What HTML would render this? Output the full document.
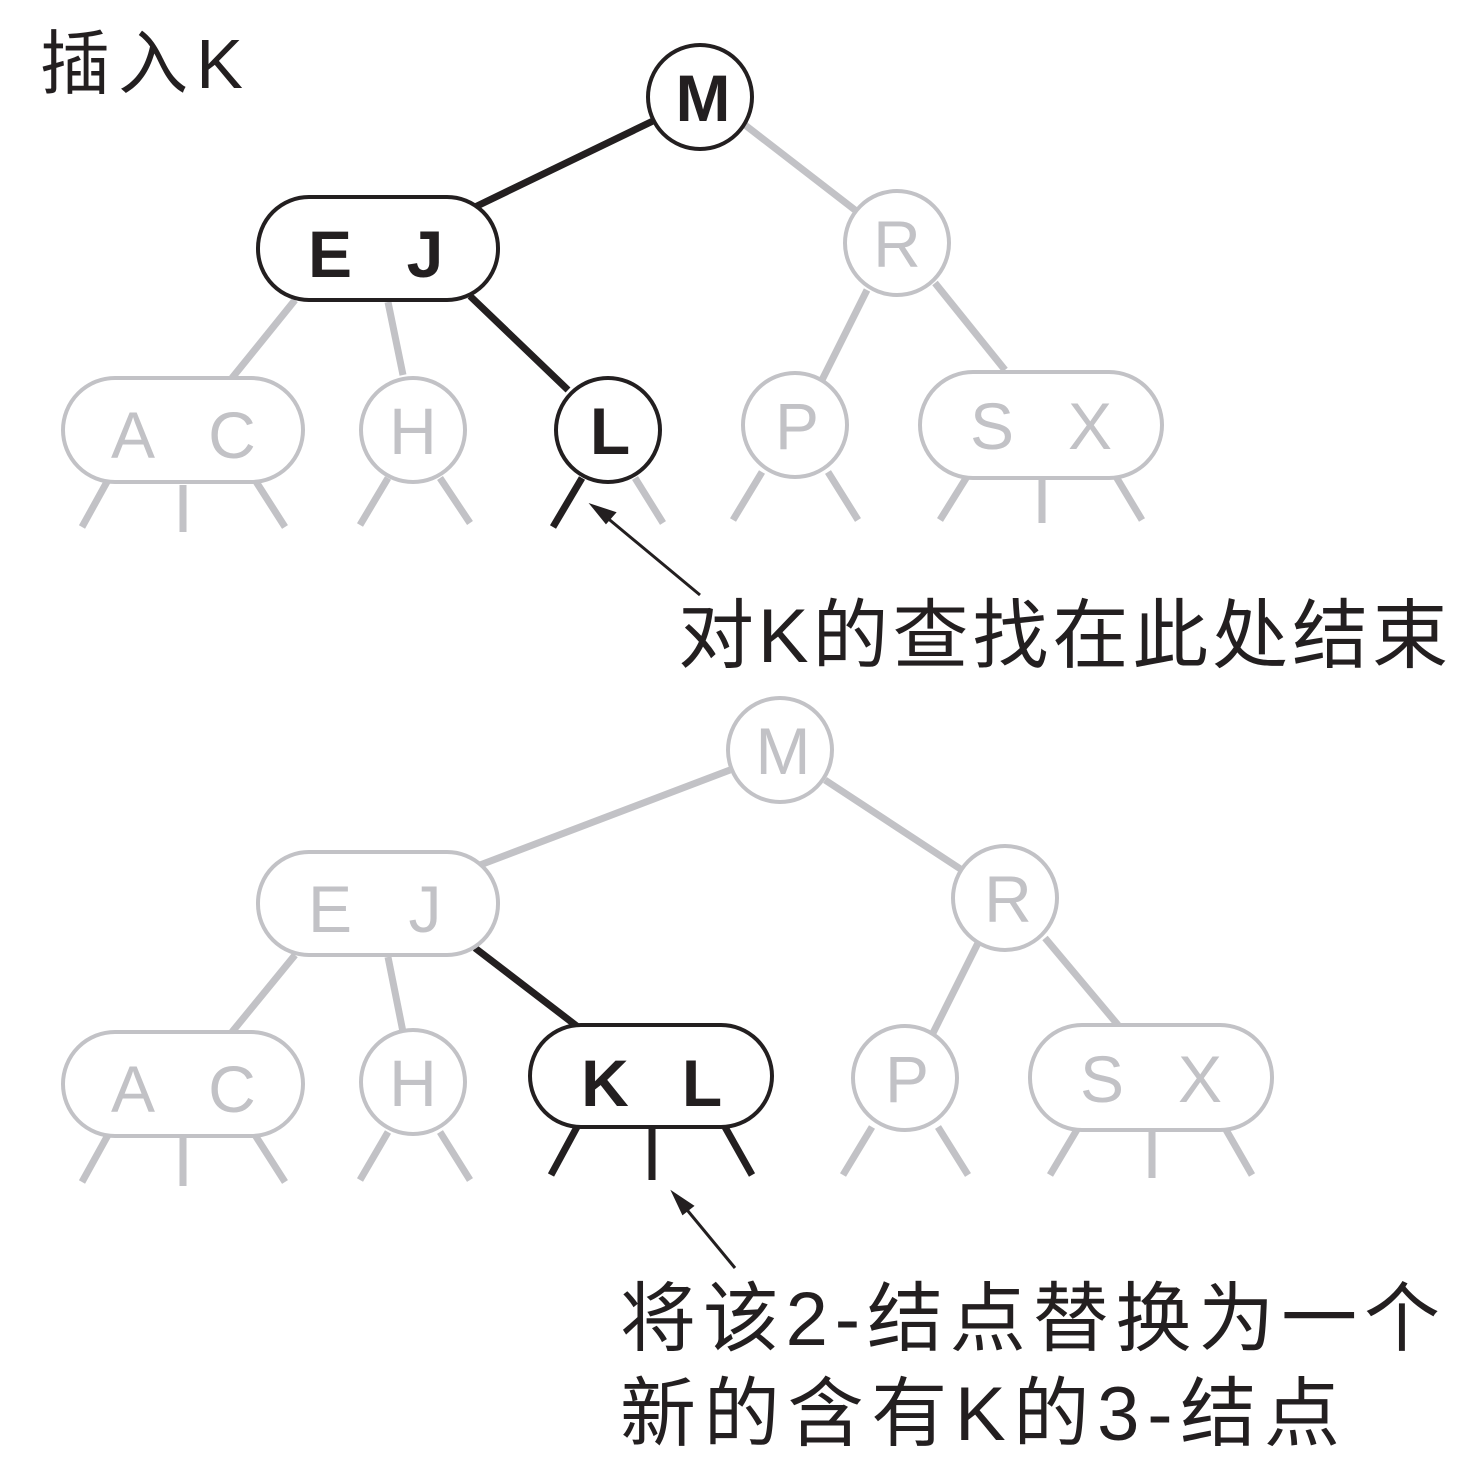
<!DOCTYPE html>
<html><head><meta charset="utf-8"><style>
body{margin:0;background:#fff}
svg{display:block}
text{font-family:"Liberation Sans","DejaVu Sans",sans-serif}
.cj{font-family:"Liberation Sans","Noto Sans CJK SC",sans-serif}
</style></head><body>
<svg width="1471" height="1462" viewBox="0 0 1471 1462" xmlns="http://www.w3.org/2000/svg">
<g stroke-linecap="butt" fill="none" stroke-width="7">
<g stroke="#c2c2c6">
<line x1="745" y1="125" x2="855" y2="210"/>
<line x1="295" y1="300" x2="232" y2="378"/>
<line x1="388" y1="302" x2="403" y2="375"/>
<line x1="867" y1="290" x2="822" y2="380"/>
<line x1="935" y1="283" x2="1005" y2="370"/>
<line x1="108" y1="480" x2="82" y2="527"/><line x1="183" y1="485" x2="183" y2="532"/><line x1="255" y1="480" x2="285" y2="527"/>
<line x1="388" y1="478" x2="360" y2="525"/><line x1="440" y1="478" x2="470" y2="523"/>
<line x1="635" y1="478" x2="663" y2="523"/>
<line x1="762" y1="472" x2="733" y2="520"/><line x1="828" y1="472" x2="858" y2="520"/>
<line x1="968" y1="475" x2="940" y2="520"/><line x1="1042" y1="478" x2="1042" y2="523"/><line x1="1115" y1="475" x2="1142" y2="520"/>
</g>
<g stroke="#231f20">
<line x1="655" y1="120" x2="475" y2="207"/>
<line x1="470" y1="296" x2="568" y2="390"/>
<line x1="582" y1="478" x2="553" y2="527"/>
</g>
<g stroke="#c2c2c6">
<line x1="730" y1="770" x2="480" y2="865"/>
<line x1="825" y1="780" x2="962" y2="870"/>
<line x1="295" y1="955" x2="232" y2="1032"/>
<line x1="388" y1="957" x2="403" y2="1032"/>
<line x1="978" y1="943" x2="933" y2="1033"/>
<line x1="1045" y1="938" x2="1118" y2="1025"/>
<line x1="108" y1="1135" x2="82" y2="1182"/><line x1="183" y1="1138" x2="183" y2="1186"/><line x1="255" y1="1135" x2="285" y2="1182"/>
<line x1="388" y1="1132" x2="360" y2="1180"/><line x1="440" y1="1132" x2="470" y2="1180"/>
<line x1="872" y1="1127" x2="843" y2="1175"/><line x1="938" y1="1127" x2="968" y2="1175"/>
<line x1="1078" y1="1128" x2="1050" y2="1175"/><line x1="1152" y1="1130" x2="1152" y2="1178"/><line x1="1225" y1="1128" x2="1252" y2="1175"/>
</g>
<g stroke="#231f20">
<line x1="475" y1="948" x2="578" y2="1027"/>
<line x1="577" y1="1127" x2="551" y2="1175"/><line x1="652" y1="1128" x2="652" y2="1180"/><line x1="725" y1="1127" x2="752" y2="1175"/>
</g>
</g>
<g stroke-width="4" fill="#fff">
<g stroke="#c2c2c6">
<circle cx="897" cy="243" r="52"/>
<rect x="63" y="378" width="240" height="104" rx="52"/>
<circle cx="413" cy="430" r="52"/>
<circle cx="795" cy="425" r="52"/>
<rect x="920" y="372" width="242" height="106" rx="53"/>
<circle cx="780" cy="750" r="52"/>
<rect x="258" y="852" width="240" height="103" rx="51"/>
<circle cx="1005" cy="898" r="52"/>
<rect x="63" y="1032" width="240" height="104" rx="52"/>
<circle cx="413" cy="1082" r="52"/>
<circle cx="905" cy="1078" r="52"/>
<rect x="1030" y="1025" width="242" height="105" rx="52"/>
</g>
<g stroke="#231f20">
<circle cx="700" cy="97" r="52"/>
<rect x="258" y="197" width="240" height="103" rx="51"/>
<circle cx="608" cy="430" r="52"/>
<rect x="530" y="1025" width="242" height="102" rx="51"/>
</g>
</g>
<g font-size="66" text-anchor="middle" fill="#c2c2c6">
<text x="897" y="267">R</text>
<text x="133" y="458">A</text><text x="232" y="458">C</text>
<text x="413" y="454">H</text>
<text x="797" y="449">P</text>
<text x="992" y="449">S</text><text x="1090" y="449">X</text>
<text x="783" y="774">M</text>
<text x="330" y="932">E</text><text x="425" y="932">J</text>
<text x="1008" y="922">R</text>
<text x="133" y="1112">A</text><text x="232" y="1112">C</text>
<text x="413" y="1106">H</text>
<text x="907" y="1102">P</text>
<text x="1102" y="1102">S</text><text x="1200" y="1102">X</text>
</g>
<g font-size="66" font-weight="bold" text-anchor="middle" fill="#231f20">
<text x="703" y="121">M</text>
<text x="330" y="277">E</text><text x="425" y="277">J</text>
<text x="610" y="454">L</text>
<text x="605" y="1106">K</text><text x="702" y="1106">L</text>
</g>
<g stroke="#231f20" stroke-width="3" fill="#231f20">
<line x1="700" y1="595" x2="605" y2="516"/>
<path d="M593,506 L614,513 L606,522 Z"/>
<line x1="735" y1="1268" x2="683" y2="1205"/>
<path d="M674,1194 L692,1206 L683,1213 Z"/>
</g>
<g fill="#231f20">
<text x="40" y="88" font-size="70" class="cj" textLength="203">插入K</text>
<text x="678" y="662" font-size="76" class="cj" textLength="770">对K的查找在此处结束</text>
<text x="620" y="1345" font-size="76" class="cj" textLength="820">将该2-结点替换为一个</text>
<text x="620" y="1440" font-size="76" class="cj" textLength="720">新的含有K的3-结点</text>
</g>
</svg>
</body></html>
